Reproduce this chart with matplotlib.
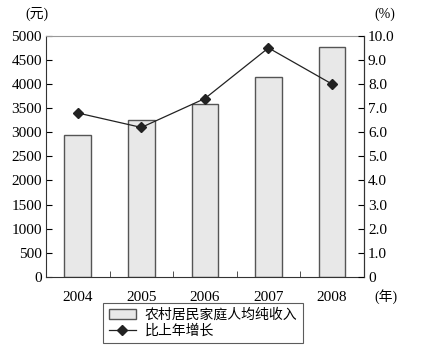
import matplotlib
matplotlib.use("Agg")
import matplotlib.pyplot as plt
from matplotlib.ticker import FixedLocator

plt.rcParams['font.family'] = ['Liberation Serif', 'Noto Sans CJK SC']

years = ['2004', '2005', '2006', '2007', '2008']
income = [2936, 3255, 3587, 4140, 4761]
growth = [6.8, 6.2, 7.4, 9.5, 8.0]
left_ticks = list(range(0, 5001, 500))
right_ticks = [i for i in range(0, 11)]
right_labels = ['0'] + [f'{v:.1f}' for v in right_ticks[1:]]
bar_label = '农村居民家庭人均纯收入'
line_label = '比上年增长'

fig = plt.figure(figsize=(4.26, 3.55), dpi=100)
ax = fig.add_axes([0.108, 0.22, 0.746, 0.679])
x = list(range(len(years)))
bars = ax.bar(x, income, width=0.42, color='#e8e8e8', edgecolor='#555555', linewidth=1.0, label=bar_label)
ax.set_xlim(-0.5, 4.5)
ax.set_ylim(0, 5000)
ax.set_yticks(left_ticks)
ax.set_xticks(x)
ax.set_xticklabels(years)
ax.xaxis.set_minor_locator(FixedLocator([0.5, 1.5, 2.5, 3.5]))
ax.tick_params(axis='x', which='major', length=0, labelsize=11, pad=10)
ax.tick_params(axis='x', which='minor', direction='in', length=4, color='#333333')
ax.tick_params(axis='y', direction='in', length=4, labelsize=11, pad=3)
for s in ['left', 'bottom', 'right']:
    ax.spines[s].set_color('#333333')
ax.spines['top'].set_color('#999999')

ax2 = ax.twinx()
ln, = ax2.plot(x, growth, color='#222222', linewidth=0.9, marker='D', markersize=5, label=line_label)
ax2.set_ylim(0, 10)
ax2.set_yticks(right_ticks)
ax2.set_yticklabels(right_labels)
ax2.tick_params(axis='y', direction='in', length=4, labelsize=11, pad=3)
ax2.spines['right'].set_color('#333333')
ax2.spines['top'].set_visible(False)
ax2.spines['left'].set_visible(False)
ax2.spines['bottom'].set_visible(False)

fig.text(37/426, 1 - 14/355, '(元)', ha='center', va='center', fontsize=10)
fig.text(385/426, 1 - 14/355, '(%)', ha='center', va='center', fontsize=10)
fig.text(386/426, 1 - 297/355, '(年)', ha='center', va='center', fontsize=10)

leg = fig.legend([bars, ln], [bar_label, line_label], loc='upper left',
                 bbox_to_anchor=(103/426, 1 - 303/355), fontsize=10, frameon=True,
                 fancybox=False, edgecolor='#333333', handlelength=2.0,
                 borderpad=0.4, labelspacing=0.15, handletextpad=0.6, borderaxespad=0)
leg.get_frame().set_linewidth(0.8)

fig.savefig('out.png', dpi=100)
